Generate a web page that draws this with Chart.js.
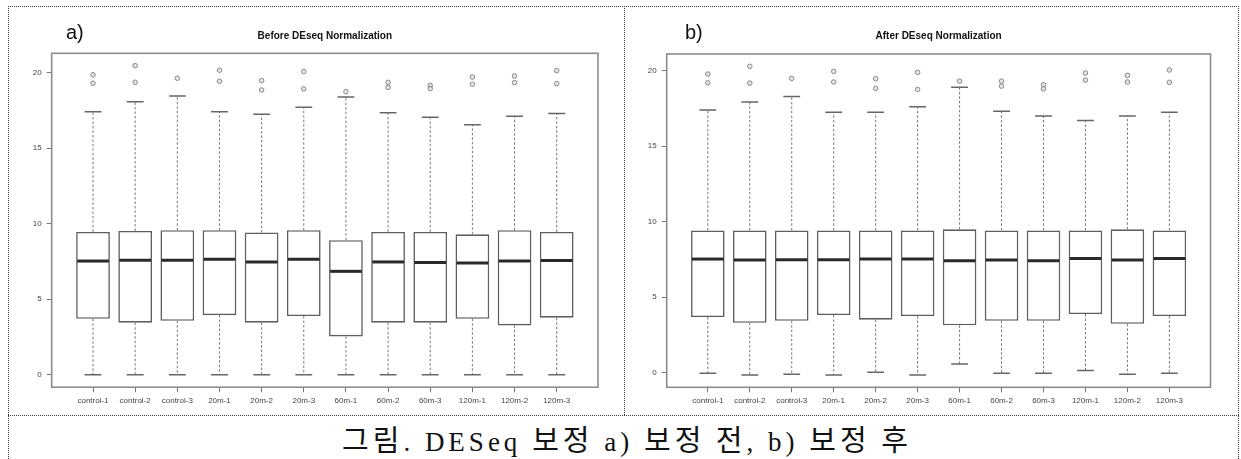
<!DOCTYPE html>
<html>
<head>
<meta charset="utf-8">
<script src="https://cdn.jsdelivr.net/npm/chart.js@4.4.1/dist/chart.umd.min.js"></script>
<style>
  html, body { margin: 0; padding: 0; background: #fff; }
  body { width: 1241px; height: 459px; position: relative; overflow: hidden; }
  .rule { position: absolute; border: 0 dotted #3a3a3a; }
  canvas { position: absolute; }
  .tag { position: absolute; font-family: "Liberation Sans", Arial, sans-serif; font-size: 20px; line-height: 20px; color: #111; }
  #caption { position: absolute; left: 342px; top: 423px; white-space: nowrap;
             font-family: "Liberation Serif", "Noto Sans CJK KR", serif; font-size: 27px; line-height: 30px;
             letter-spacing: 4px; color: #111; }
  #caption .ko { font-family: "Noto Sans CJK KR", sans-serif; font-size: 29px; }
</style>
</head>
<body>
<!-- table rules -->
<div class="rule" style="left:8px;top:6px;width:1231px;border-top-width:1px;"></div>
<div class="rule" style="left:8px;top:6px;height:453px;border-left-width:1px;"></div>
<div class="rule" style="left:1238px;top:6px;height:453px;border-left-width:1px;"></div>
<div class="rule" style="left:624px;top:6px;height:409px;border-left-width:1px;"></div>
<div class="rule" style="left:8px;top:415px;width:1231px;border-top-width:1px;"></div>

<canvas id="before" width="614" height="407" style="left:9px;top:7px;"></canvas>
<canvas id="after" width="613" height="407" style="left:625px;top:7px;"></canvas>
<div class="tag" style="left:66px;top:22px;">a)</div>
<div class="tag" style="left:685px;top:22px;">b)</div>
<div id="caption"><span class="ko">그림</span>. DESeq <span class="ko">보정</span> a) <span class="ko">보정 전</span>, b) <span class="ko">보정 후</span></div>

<script>
// Samples
const categories = ['control-1', 'control-2', 'control-3', '20m-1', '20m-2', '20m-3',
                    '60m-1', '60m-2', '60m-3', '120m-1', '120m-2', '120m-3'];
const yTicks = [0, 5, 10, 15, 20];

// Before normalization: whisker ends, quartiles, medians, outliers
const beforeLow    = [0, 0, 0, 0, 0, 0, 0, 0, 0, 0, 0, 0];
const beforeQ1     = [3.71, 3.45, 3.58, 3.95, 3.45, 3.89, 2.54, 3.45, 3.45, 3.71, 3.27, 3.78];
const beforeMedian = [7.53, 7.58, 7.58, 7.65, 7.47, 7.65, 6.85, 7.47, 7.43, 7.40, 7.53, 7.56];
const beforeQ3     = [9.46, 9.52, 9.57, 9.57, 9.42, 9.57, 8.91, 9.46, 9.46, 9.30, 9.57, 9.46];
const beforeHigh   = [17.41, 18.08, 18.45, 17.41, 17.24, 17.70, 18.39, 17.35, 17.04, 16.55, 17.11, 17.30];
const beforeOutliers = [[19.85, 19.30], [20.46, 19.36], [19.63], [20.16, 19.43], [19.47, 18.85], [20.07, 18.92],
                        [18.74], [19.36, 19.03], [19.15, 18.95], [19.71, 19.23], [19.78, 19.34], [20.13, 19.27]];

// After normalization
const afterLow    = [-0.05, -0.16, -0.11, -0.16, 0.02, -0.16, 0.57, -0.05, -0.05, 0.13, -0.11, -0.05];
const afterQ1     = [3.68, 3.30, 3.43, 3.81, 3.50, 3.74, 3.13, 3.43, 3.43, 3.88, 3.23, 3.74];
const afterMedian = [7.52, 7.45, 7.47, 7.47, 7.52, 7.52, 7.41, 7.45, 7.41, 7.56, 7.45, 7.56];
const afterQ3     = [9.42, 9.42, 9.42, 9.42, 9.42, 9.42, 9.49, 9.42, 9.42, 9.42, 9.49, 9.42];
const afterHigh   = [17.39, 17.92, 18.30, 17.25, 17.25, 17.61, 18.90, 17.32, 17.00, 16.70, 17.00, 17.25];
const afterOutliers = [[19.78, 19.20], [20.29, 19.18], [19.49], [19.96, 19.25], [19.47, 18.83], [19.89, 18.76],
                       [19.31], [19.31, 18.98], [19.07, 18.80], [19.85, 19.38], [19.69, 19.25], [20.05, 19.23]];

// Whiskers, staples, medians and the plot frame, placed with the chart's scales
const boxParts = {
  id: 'boxParts',
  beforeDatasetsDraw(chart, args, o) {
    const ctx = chart.ctx, y = chart.scales.y;
    const bars = chart.getDatasetMeta(0).data;
    ctx.save();
    bars.forEach((bar, i) => {
      const half = bar.width / 4;
      const yq1 = y.getPixelForValue(o.q1[i]), yq3 = y.getPixelForValue(o.q3[i]);
      const ylo = y.getPixelForValue(o.low[i]), yhi = y.getPixelForValue(o.high[i]);
      ctx.strokeStyle = '#777';
      ctx.lineWidth = 1;
      ctx.setLineDash([2.5, 2]);
      ctx.beginPath();
      ctx.moveTo(bar.x, yq3); ctx.lineTo(bar.x, yhi);
      ctx.moveTo(bar.x, yq1); ctx.lineTo(bar.x, ylo);
      ctx.stroke();
      ctx.setLineDash([]);
      ctx.strokeStyle = '#666';
      ctx.lineWidth = 1.5;
      ctx.beginPath();
      ctx.moveTo(bar.x - half, yhi); ctx.lineTo(bar.x + half, yhi);
      ctx.moveTo(bar.x - half, ylo); ctx.lineTo(bar.x + half, ylo);
      ctx.stroke();
    });
    ctx.restore();
  },
  afterDatasetsDraw(chart, args, o) {
    const ctx = chart.ctx, y = chart.scales.y, a = chart.chartArea;
    const bars = chart.getDatasetMeta(0).data;
    ctx.save();
    ctx.strokeStyle = '#2a2a2a';
    ctx.lineWidth = 3;
    bars.forEach((bar, i) => {
      const ym = y.getPixelForValue(o.median[i]);
      ctx.beginPath();
      ctx.moveTo(bar.x - bar.width / 2 + 1, ym);
      ctx.lineTo(bar.x + bar.width / 2 - 1, ym);
      ctx.stroke();
    });
    ctx.strokeStyle = '#8c8c8c';
    ctx.lineWidth = 1.6;
    ctx.strokeRect(a.left, a.top, a.right - a.left, a.bottom - a.top);
    ctx.restore();
  }
};

function makeBoxChart(id, title, low, q1, median, q3, high, outliers, area) {
  const all = low.concat(high, outliers.flat());
  const lo = Math.min(...all), hi = Math.max(...all);
  const pad = 0.04 * (hi - lo);
  const xpad = 0.04 * categories.length;
  const points = [];
  outliers.forEach((vals, i) => vals.forEach(v => points.push({ x: i + 1, y: v })));

  return new Chart(document.getElementById(id), {
    type: 'bar',
    data: {
      datasets: [{
        type: 'bar',
        data: categories.map((c, i) => ({ x: i + 1, y: [q1[i], q3[i]] })),
        backgroundColor: '#ffffff',
        borderColor: '#5e5e5e',
        borderWidth: 1.6,
        borderSkipped: false,
        barPercentage: 0.8,
        categoryPercentage: 1.0
      }, {
        type: 'scatter',
        data: points,
        pointStyle: 'circle',
        pointRadius: 2.3,
        pointBorderWidth: 1,
        pointBorderColor: '#8a8a8a',
        pointBackgroundColor: 'rgba(215,215,215,0.7)'
      }]
    },
    options: {
      responsive: false,
      animation: false,
      layout: { padding: { top: 0, right: area.right, left: 0, bottom: 0 } },
      plugins: {
        legend: { display: false },
        tooltip: { enabled: false },
        title: {
          display: true, text: title, fullSize: false, color: '#111',
          font: { family: 'Liberation Sans', size: 10, weight: 'bold', lineHeight: 1.2 },
          padding: { top: 23.7, bottom: area.top - 35.7 }
        },
        boxParts: { low, q1, median, q3, high }
      },
      scales: {
        x: {
          type: 'linear',
          offset: false,
          min: 0.5 - xpad, max: categories.length + 0.5 + xpad,
          afterBuildTicks: s => { s.ticks = categories.map((c, i) => ({ value: i + 1 })); },
          afterFit: s => { s.height = area.axisH; },
          grid: { display: true, offset: false, drawOnChartArea: false, drawTicks: true, tickLength: 5, color: '#777' },
          border: { display: false },
          ticks: {
            autoSkip: false, maxRotation: 0, padding: 4, color: '#444',
            font: { family: 'Liberation Sans', size: 8 },
            callback: (v, i) => categories[i]
          }
        },
        y: {
          min: lo - pad, max: hi + pad,
          afterBuildTicks: s => { s.ticks = yTicks.map(v => ({ value: v })); },
          afterFit: s => { s.width = area.left; },
          grid: { display: true, drawOnChartArea: false, drawTicks: true, tickLength: 5, color: '#777' },
          border: { display: false },
          ticks: { padding: 5, color: '#444', font: { family: 'Liberation Sans', size: 8 } }
        }
      }
    },
    plugins: [boxParts]
  });
}

makeBoxChart('before', 'Before DEseq Normalization',
  beforeLow, beforeQ1, beforeMedian, beforeQ3, beforeHigh, beforeOutliers,
  { left: 42.7, right: 25, top: 46.3, axisH: 26.8 });
makeBoxChart('after', 'After DEseq Normalization',
  afterLow, afterQ1, afterMedian, afterQ3, afterHigh, afterOutliers,
  { left: 41.7, right: 27.5, top: 47, axisH: 26.7 });
</script>
</body>
</html>
